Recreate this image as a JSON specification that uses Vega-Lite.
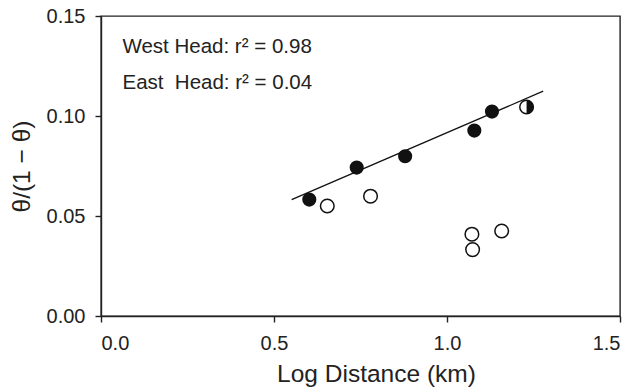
{
  "$schema": "https://vega.github.io/schema/vega-lite/v6.json",
  "width": 519,
  "height": 300,
  "autosize": {"type": "none"},
  "padding": {"left": 101, "top": 16, "right": 13, "bottom": 74},
  "config": {
    "font": "Liberation Sans",
    "view": {"stroke": "#222", "strokeWidth": 1.4},
    "axis": {
      "grid": false,
      "domainColor": "#222",
      "domainWidth": 1.4,
      "tickColor": "#222",
      "tickWidth": 1.4,
      "tickSize": 6,
      "labelColor": "#222",
      "titleColor": "#222",
      "labelFontSize": 20,
      "titleFontSize": 24.5,
      "titleFontWeight": "normal"
    }
  },
  "datasets": {
    "fit": [
      {"x": 0.551, "y": 0.0582},
      {"x": 1.278, "y": 0.1124}
    ],
    "pts": [
      {"x": 0.602, "y": 0.0582, "site": "West"},
      {"x": 0.739, "y": 0.0742, "site": "West"},
      {"x": 0.879, "y": 0.0799, "site": "West"},
      {"x": 1.079, "y": 0.0927, "site": "West"},
      {"x": 1.130, "y": 0.1022, "site": "West"},
      {"x": 0.654, "y": 0.0550, "site": "East"},
      {"x": 0.779, "y": 0.0599, "site": "East"},
      {"x": 1.072, "y": 0.0409, "site": "East"},
      {"x": 1.074, "y": 0.0332, "site": "East"},
      {"x": 1.158, "y": 0.0425, "site": "East"},
      {"x": 1.230, "y": 0.1045, "site": "Both"}
    ],
    "notes": [
      {"x": 0.062, "y": 0.1314, "label": "West Head: r² = 0.98"},
      {"x": 0.062, "y": 0.1134, "label": "East \u00a0Head: r² = 0.04"}
    ]
  },
  "layer": [
    {
      "data": {"name": "fit"},
      "mark": {"type": "line", "color": "#111", "strokeWidth": 1.3},
      "encoding": {
        "x": {
          "field": "x", "type": "quantitative",
          "scale": {"domain": [0, 1.5], "nice": false, "zero": false},
          "axis": {"values": [0, 0.5, 1, 1.5], "format": ".1f", "title": "Log Distance (km)", "labelPadding": 11, "titlePadding": 9, "titleX": 275}
        },
        "y": {
          "field": "y", "type": "quantitative",
          "scale": {"domain": [0, 0.15], "nice": false},
          "axis": {"values": [0, 0.05, 0.1, 0.15], "format": ".2f", "title": "θ/(1 − θ)", "labelPadding": 10, "titlePadding": 12}
        }
      }
    },
    {
      "data": {"name": "pts"},
      "transform": [{"filter": "datum.site === 'West'"}],
      "mark": {"type": "point", "shape": "circle", "filled": true, "color": "#111", "size": 200, "opacity": 1},
      "encoding": {
        "x": {"field": "x", "type": "quantitative"},
        "y": {"field": "y", "type": "quantitative"}
      }
    },
    {
      "data": {"name": "pts"},
      "transform": [{"filter": "datum.site !== 'West'"}],
      "mark": {"type": "point", "shape": "circle", "fill": "white", "stroke": "#111", "strokeWidth": 1.5, "size": 185, "opacity": 1},
      "encoding": {
        "x": {"field": "x", "type": "quantitative"},
        "y": {"field": "y", "type": "quantitative"}
      }
    },
    {
      "data": {"name": "pts"},
      "transform": [{"filter": "datum.site === 'Both'"}],
      "mark": {"type": "point", "shape": "M0,-1A1,1,0,0,1,0,1Z", "filled": true, "color": "#111", "size": 185, "opacity": 1},
      "encoding": {
        "x": {"field": "x", "type": "quantitative"},
        "y": {"field": "y", "type": "quantitative"}
      }
    },
    {
      "data": {"name": "notes"},
      "mark": {"type": "text", "align": "left", "baseline": "alphabetic", "fontSize": 20.5, "color": "#222"},
      "encoding": {
        "x": {"field": "x", "type": "quantitative"},
        "y": {"field": "y", "type": "quantitative"},
        "text": {"field": "label"}
      }
    }
  ]
}
